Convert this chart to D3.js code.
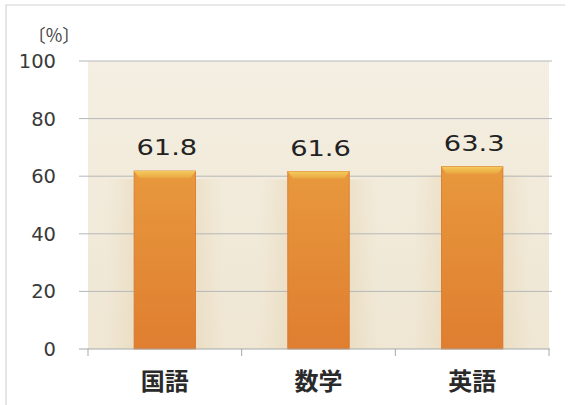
<!DOCTYPE html>
<html><head><meta charset="utf-8">
<script src="https://cdn.jsdelivr.net/npm/d3@7"></script>
<style>body{margin:0;background:#fff}svg{display:block}</style>
</head><body><svg id="c" width="571" height="405"></svg>
<script>
const categories = ["国語", "数学", "英語"];
const values = [61.8, 61.6, 63.3];
const yTicks = [0, 20, 40, 60, 80, 100];
const unitLabel = "〔%〕";

const svg = d3.select("#c");
const W = 571, H = 405;
const m = {left: 88, right: 22, top: 61, bottom: 56};
const x = d3.scaleBand().domain(categories).range([m.left, W - m.right]).paddingInner(0.6).paddingOuter(0.3);
const y = d3.scaleLinear().domain([0, 100]).range([H - m.bottom, m.top]);

const defs = svg.append("defs");
const bg = defs.append("linearGradient").attr("id","bg").attr("x1",0).attr("y1",0).attr("x2",0).attr("y2",1);
bg.append("stop").attr("offset","0%").attr("stop-color","#f4efe2");
bg.append("stop").attr("offset","100%").attr("stop-color","#efe6d3");
const bar = defs.append("linearGradient").attr("id","bar").attr("x1",0).attr("y1",0).attr("x2",0).attr("y2",1);
bar.append("stop").attr("offset","0%").attr("stop-color","#e8983d");
bar.append("stop").attr("offset","100%").attr("stop-color","#df7e30");
const sh = defs.append("linearGradient").attr("id","sh").attr("x1",0).attr("y1",0).attr("x2",1).attr("y2",0);
sh.append("stop").attr("offset","0%").attr("stop-color","#e3cfa8").attr("stop-opacity",0);
sh.append("stop").attr("offset","50%").attr("stop-color","#dfc69b").attr("stop-opacity",0.9);
sh.append("stop").attr("offset","100%").attr("stop-color","#e3cfa8").attr("stop-opacity",0);
const top_ = defs.append("linearGradient").attr("id","tp").attr("x1",0).attr("y1",0).attr("x2",0).attr("y2",1);
top_.append("stop").attr("offset","0%").attr("stop-color","#f4cb5c");
top_.append("stop").attr("offset","100%").attr("stop-color","#eaa640");

// outer frame (left and top)
svg.append("path").attr("d",`M6,${H}L6,5L565,5`).attr("fill","none").attr("stroke","#d4d4cf").attr("stroke-width",1.2);

// plot background
svg.append("rect").attr("x",m.left).attr("y",y(100)).attr("width",W-m.right-m.left).attr("height",y(0)-y(100)).attr("fill","url(#bg)");

// shadows around bars
svg.selectAll(".sh").data(values).join("rect")
  .attr("x",(d,i)=>x(categories[i])-28).attr("width",x.bandwidth()+56)
  .attr("y",d=>y(d)+8).attr("height",d=>y(0)-y(d)-8).attr("fill","url(#sh)").attr("opacity",0.75);

// gridlines
svg.append("g").selectAll("line").data(yTicks.slice(1)).join("line")
  .attr("x1",m.left-9).attr("x2",W-m.right+3).attr("y1",d=>y(d)).attr("y2",d=>y(d))
  .attr("stroke","#b4b8b8").attr("stroke-width",1);

// y axis labels
svg.append("g").selectAll("text").data(yTicks).join("text")
  .attr("x",56).attr("y",d=>y(d)).attr("dy","0.36em").attr("text-anchor","end")
  .attr("font-family","DejaVu Sans, sans-serif").attr("font-size",19.5).attr("fill","#3a3a3a")
  .text(d=>d);
svg.append("text").attr("x",54).attr("y",42).attr("text-anchor","middle")
  .attr("font-family","Noto Sans CJK JP, sans-serif").attr("font-size",18).attr("fill","#444").text(unitLabel);

// bars
const g = svg.append("g");
g.selectAll(".b").data(values).join("rect")
  .attr("x",(d,i)=>x(categories[i])).attr("width",x.bandwidth())
  .attr("y",d=>y(d)).attr("height",d=>y(0)-y(d)).attr("fill","url(#bar)")
  .attr("stroke","#d8772a").attr("stroke-width",0.8);
g.selectAll(".t").data(values).join("path")
  .attr("d",(d,i)=>{const x0=x(categories[i]),w=x.bandwidth(),y0=y(d);
    return `M${x0},${y0}L${x0+w},${y0}L${x0+w-5},${y0+7}L${x0+5},${y0+7}Z`;})
  .attr("fill","url(#tp)");

// value labels (horizontally stretched)
svg.selectAll(".v").data(values).join("g")
  .attr("transform",(d,i)=>`translate(${x(categories[i])+x.bandwidth()/2+2},${y(d)-16}) scale(1.3,1)`)
  .append("text").attr("text-anchor","middle").attr("font-family","DejaVu Sans, sans-serif")
  .attr("font-size",21).attr("fill","#222")
  .text(d=>d.toFixed(1));

// x axis
const xa = svg.append("g");
xa.append("line").attr("x1",m.left-9).attr("x2",W-m.right+1).attr("y1",y(0)).attr("y2",y(0)).attr("stroke","#a5a9a9");
const tickX = [m.left, ...categories.map(c=>x(c)+x.bandwidth()/2+x.step()/2)];
xa.selectAll("line.tk").data(tickX).join("line").attr("class","tk")
  .attr("x1",d=>d).attr("x2",d=>d).attr("y1",y(0)).attr("y2",y(0)+7).attr("stroke","#a5a9a9");
xa.selectAll("text").data(categories).join("text")
  .attr("x",d=>x(d)+x.bandwidth()/2).attr("y",390).attr("text-anchor","middle")
  .attr("font-family","Noto Sans CJK JP, sans-serif").attr("font-weight","bold").attr("font-size",24)
  .attr("fill","#2a2a2a").text(d=>d);
</script></body></html>
